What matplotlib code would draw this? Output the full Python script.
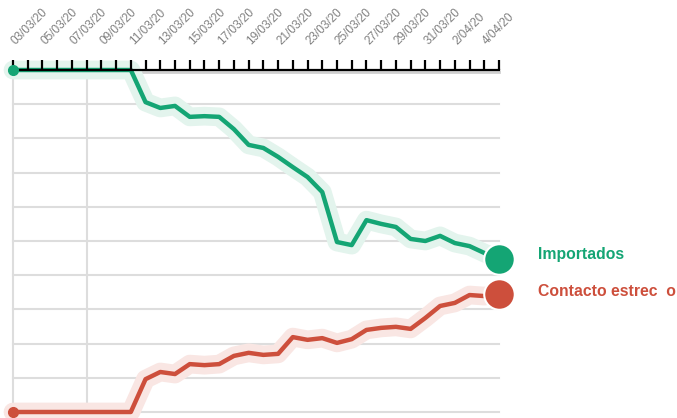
import matplotlib
matplotlib.use("Agg")
import matplotlib.pyplot as plt
import matplotlib.transforms as mtransforms

# fechas (una por día, 03/03 -> 05/04)
dias = ["03/03", "04/03", "05/03", "06/03", "07/03", "08/03", "09/03", "10/03",
        "11/03", "12/03", "13/03", "14/03", "15/03", "16/03", "17/03", "18/03",
        "19/03", "20/03", "21/03", "22/03", "23/03", "24/03", "25/03", "26/03",
        "27/03", "28/03", "29/03", "30/03", "31/03", "1/04", "2/04", "3/04",
        "4/04", "5/04"]

etiquetas = ["03/03/20", "05/03/20", "07/03/20", "09/03/20", "11/03/20", "13/03/20",
             "15/03/20", "17/03/20", "19/03/20", "21/03/20", "23/03/20", "25/03/20",
             "27/03/20", "29/03/20", "31/03/20", "2/04/20", "4/04/20"]

# porcentaje de casos
importados = [100, 100, 100, 100, 100, 100, 100, 100, 100, 90.6, 88.9, 89.5,
              86.3, 86.5, 86.3, 82.7, 78.1, 77.2, 74.6, 71.6, 68.7, 64.3,
              49.7, 48.8, 56.1, 55.0, 54.1, 50.6, 50.0, 51.5, 49.4, 48.5,
              46.5, 44.7]
contacto = [0, 0, 0, 0, 0, 0, 0, 0, 0, 9.6, 11.7, 11.1, 14.0, 13.7, 14.0,
            16.4, 17.3, 16.7, 17.0, 21.9, 21.1, 21.6, 20.2, 21.3, 24.0, 24.6,
            24.9, 24.3, 27.5, 31.0, 31.9, 34.2, 33.9, 34.5]

verde = "#14a574"
rojo = "#cd4f3c"

fig = plt.figure(figsize=(6.77, 4.18), dpi=100)
W, H = 677, 418
ax = fig.add_axes([13 / W, 1 - 412 / H, (499 - 13) / W, (412 - 70) / H])

x = list(range(len(dias)))
ax.set_xlim(0, len(dias) - 1)
ax.set_ylim(0, 100)

# grilla
for v in range(0, 100, 10):
    ax.axhline(v, color="#dddddd", lw=1.5, zorder=1, clip_on=False)
for v in [0, 5]:
    ax.axvline(v, color="#dddddd", lw=1.5, zorder=1, clip_on=False)

# sombra bajo el eje superior
sombra = ax.transData + mtransforms.ScaledTranslation(0, -2 / 100, fig.dpi_scale_trans)
ax.plot([0, len(dias) - 1], [100, 100], color="#d0d0d0", lw=2, transform=sombra,
        zorder=1, clip_on=False)

for serie, c, glow in [(importados, verde, "#e3f4ed"), (contacto, rojo, "#f9e6e3")]:
    ax.plot(x, serie, color=glow, lw=13.5, solid_capstyle="round",
            solid_joinstyle="round", zorder=2, clip_on=False)
    ax.plot(x, serie, color=c, lw=3.2, solid_joinstyle="round", zorder=3, clip_on=False)
    ax.plot(x[0], serie[0], "o", color=c, ms=7, zorder=4, clip_on=False)
    ax.plot(x[-1], serie[-1], "o", color=c, ms=22, mec="white", mew=1.5,
            zorder=5, clip_on=False)

# eje superior con ticks
for s in ["left", "right", "bottom"]:
    ax.spines[s].set_visible(False)
ax.spines["top"].set_color("black")
ax.spines["top"].set_linewidth(1.6)
ax.spines["top"].set_zorder(3.5)
ax.xaxis.set_zorder(3.5)
ax.xaxis.tick_top()
ax.set_xticks(x)
ax.set_xticklabels([])
ax.tick_params(axis="x", top=True, bottom=False, length=7, width=1.6,
               color="black")
ax.set_yticks([])

# etiquetas diagonales
etq = mtransforms.blended_transform_factory(ax.transData, ax.transAxes)
etq = etq + mtransforms.ScaledTranslation(5 / 100, 23 / 100, fig.dpi_scale_trans)
for i, lab in zip(x[::2], etiquetas):
    ax.text(i, 1.0, lab, transform=etq, rotation=45, rotation_mode="anchor",
            ha="left", va="bottom", fontsize=8.5, color="#808080",
            family=["Liberation Sans", "DejaVu Sans"], clip_on=False)

fig.text(538 / W, 1 - 255 / H, "Importados", color=verde, fontsize=11.3,
         fontweight="bold", va="center", ha="left", family="Liberation Sans")
fig.text(538 / W, 1 - 292 / H, "Contacto estrec  o", color=rojo, fontsize=11.3,
         fontweight="bold", va="center", ha="left", family="Liberation Sans")

fig.savefig("out.png", dpi=100)
